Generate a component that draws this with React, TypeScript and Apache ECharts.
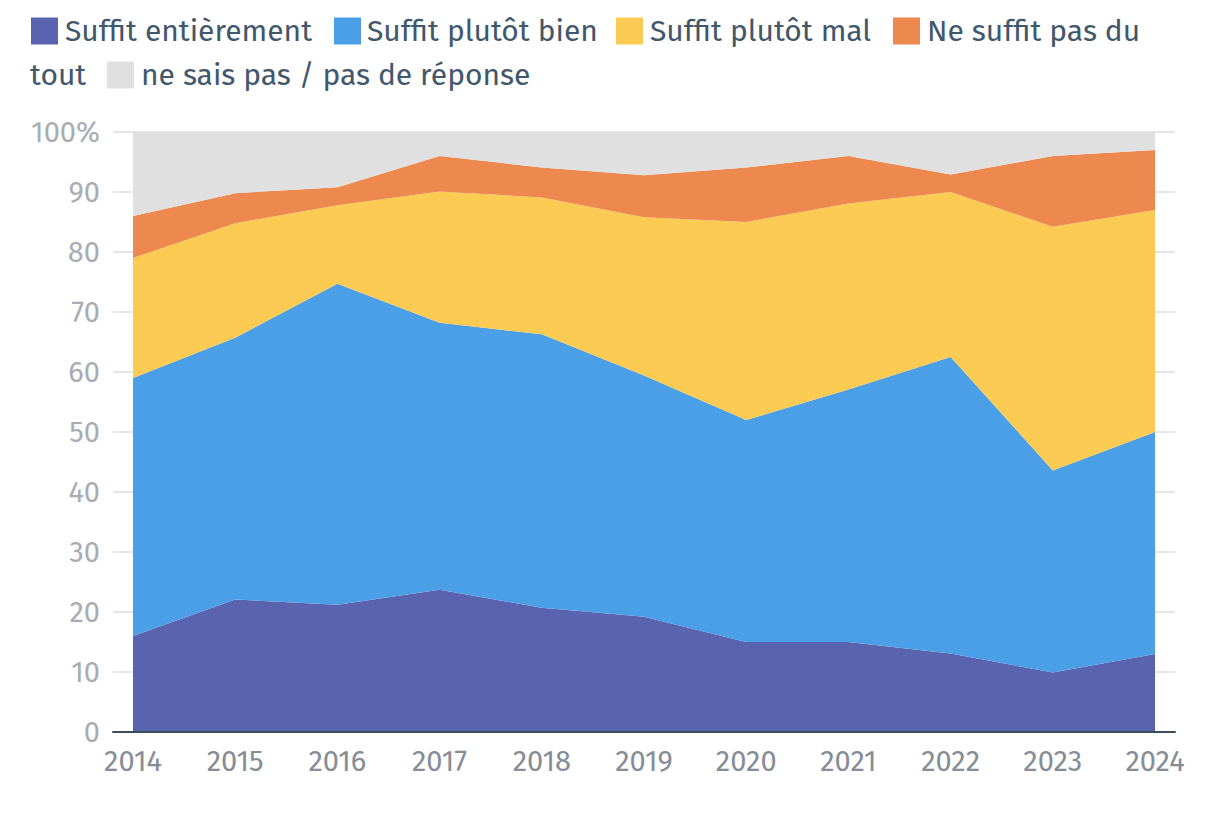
import React, { useEffect, useRef } from "react";
import * as echarts from "echarts";

const years = ["2014", "2015", "2016", "2017", "2018", "2019", "2020", "2021", "2022", "2023", "2024"];
const seriesNames = [
  "Suffit entièrement",
  "Suffit plutôt bien",
  "Suffit plutôt mal",
  "Ne suffit pas du tout",
  "ne sais pas / pas de réponse",
];
const seriesColors = ["#5a63b0", "#4a9fe6", "#fccb53", "#ed894f", "#e0e0e0"];

const suffitEntierement = [16, 22.1, 21.2, 23.7, 20.7, 19.2, 15, 15, 13.1, 9.9, 13];
const suffitPlutotBien = [43, 43.6, 53.5, 44.5, 45.6, 40.2, 37, 42.1, 49.4, 33.7, 37];
const suffitPlutotMal = [20, 19.1, 13.1, 21.9, 22.8, 26.4, 33, 31, 27.5, 40.6, 37];
const neSuffitPas = [7, 5, 3, 5.9, 5, 7, 9.1, 7.9, 2.9, 11.8, 10];
const neSaisPas = [14, 10.2, 9.2, 4, 5.9, 7.2, 5.9, 4, 7.1, 4, 3];

const yTicks = { min: 0, max: 100, interval: 10 };

const FONT = "'Fira Sans', Lato, 'Noto Sans', sans-serif";

export default function App() {
  const ref = useRef<HTMLDivElement>(null);

  useEffect(() => {
    if (!ref.current) return;
    const chart = echarts.init(ref.current, null, { renderer: "svg" });
    const values = [suffitEntierement, suffitPlutotBien, suffitPlutotMal, neSuffitPas, neSaisPas];

    const legendText = "#41576b";
    const legendFont = 30;
    const sq = 27;
    const row1 = 31;
    const row2 = 75;
    // legend layout (mimics wrapped HTML legend)
    const wrapIdx = 3;
    const nameParts = seriesNames[wrapIdx].split(" ");
    const firstPart = nameParts.slice(0, nameParts.length - 1).join(" ");
    const lastPart = nameParts[nameParts.length - 1];
    const row1Sq = [31, 334, 616, 893];
    const row1Tx = [65, 367, 650, 927];
    const graphics: any[] = [];
    for (let i = 0; i < 4; i++) {
      graphics.push({
        type: "rect",
        shape: { x: row1Sq[i], y: row1 - sq / 2, width: sq, height: sq },
        style: { fill: seriesColors[i] },
      });
      graphics.push({
        type: "text",
        x: row1Tx[i],
        y: row1,
        style: {
          text: i === wrapIdx ? firstPart : seriesNames[i],
          fill: legendText,
          font: `${legendFont}px ${FONT}`,
          verticalAlign: "middle",
          align: "left",
        },
      });
    }
    graphics.push({
      type: "text",
      x: 30,
      y: row2,
      style: { text: lastPart, fill: legendText, font: `${legendFont}px ${FONT}`, verticalAlign: "middle", align: "left" },
    });
    graphics.push({
      type: "rect",
      shape: { x: 107, y: row2 - sq / 2, width: sq, height: sq },
      style: { fill: seriesColors[4] },
    });
    graphics.push({
      type: "text",
      x: 141,
      y: row2,
      style: { text: seriesNames[4], fill: legendText, font: `${legendFont}px ${FONT}`, verticalAlign: "middle", align: "left" },
    });

    chart.setOption({
      animation: false,
      textStyle: { fontFamily: FONT },
      graphic: graphics,
      grid: [
        { left: 133, right: 65, top: 132, bottom: 98 },
        { left: 113, right: 45, top: 132, bottom: 98 },
      ],
      xAxis: [
        {
          type: "category",
          gridIndex: 0,
          data: years,
          boundaryGap: false,
          axisLine: { show: false },
          axisTick: { show: false },
          splitLine: { show: false },
          axisLabel: { color: "#858d96", fontSize: 29, margin: 15, fontFamily: FONT },
        },
        {
          type: "value",
          gridIndex: 1,
          min: 0,
          max: 1,
          z: 10,
          axisLine: { show: true, lineStyle: { color: "#3b4e5c", width: 2 } },
          axisTick: { show: false },
          axisLabel: { show: false },
          splitLine: { show: false },
        },
      ],
      yAxis: [
        {
          type: "value",
          gridIndex: 0,
          min: yTicks.min,
          max: yTicks.max,
          interval: yTicks.interval,
          axisLine: { show: false },
          axisTick: { show: false },
          axisLabel: { show: false },
          splitLine: { show: false },
        },
        {
          type: "value",
          gridIndex: 1,
          min: yTicks.min,
          max: yTicks.max,
          interval: yTicks.interval,
          z: 0,
          axisLine: { show: false },
          axisTick: { show: false },
          axisLabel: {
            color: "#a7adb3",
            fontSize: 29,
            margin: 13,
            fontFamily: FONT,
            formatter: (v: number) => (v === 100 ? "100%" : String(v)),
          },
          splitLine: { show: true, lineStyle: { color: "#e6e6e6", width: 2 } },
        },
      ],
      series: [
        ...seriesNames.map((name, i) => ({
          name,
          type: "line",
          xAxisIndex: 0,
          yAxisIndex: 0,
          stack: "total",
          data: values[i],
          symbol: "none",
          lineStyle: { width: 0 },
          areaStyle: { color: seriesColors[i], opacity: 1 },
          itemStyle: { color: seriesColors[i] },
          z: 2,
        })),
        { type: "line", xAxisIndex: 1, yAxisIndex: 1, data: [], silent: true },
      ],
    });

    return () => chart.dispose();
  }, []);

  return <div ref={ref} style={{ position: "absolute", left: 0, top: 0, width: 1220, height: 830 }} />;
}
